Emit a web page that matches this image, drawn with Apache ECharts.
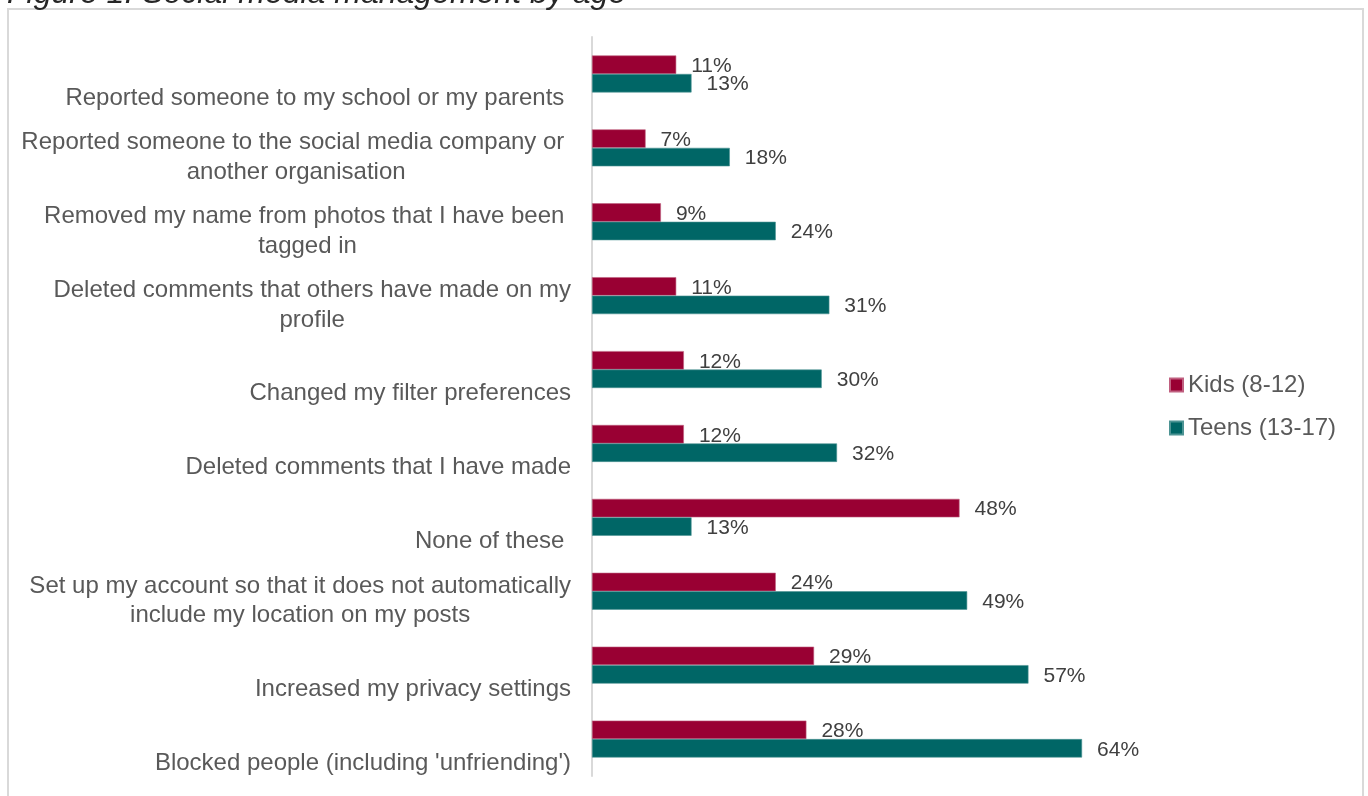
<!DOCTYPE html>
<html>
<head>
<meta charset="utf-8">
<script src="https://cdn.jsdelivr.net/npm/echarts@6/dist/echarts.min.js"></script>
<style>
  html, body { margin: 0; padding: 0; background: #ffffff; }
  #chart { width: 1368px; height: 796px; }
</style>
</head>
<body>
<div id="chart"></div>
<script>
// Social media management actions, share of each age group (%)
const categories = [
  "Reported someone to my school or my parents ",
  "Reported someone to the social media company or \nanother organisation",
  "Removed my name from photos that I have been \ntagged in",
  "Deleted comments that others have made on my\nprofile",
  "Changed my filter preferences",
  "Deleted comments that I have made",
  "None of these ",
  "Set up my account so that it does not automatically\ninclude my location on my posts",
  "Increased my privacy settings",
  "Blocked people (including 'unfriending')"
];
const seriesNames = ["Kids (8-12)", "Teens (13-17)"];
const kids  = [11, 7, 9, 11, 12, 12, 48, 24, 29, 28];
const teens = [13, 18, 24, 31, 30, 32, 13, 49, 57, 64];

const FONT = "'Liberation Sans', Arial, sans-serif";
const KIDS_COLOR = '#990033';
const TEENS_COLOR = '#006666';

const chart = echarts.init(document.getElementById('chart'));

function valueLabel() {
  return {
    show: true,
    position: 'right',
    distance: 15,
    offset: [0, 1.5],
    formatter: p => p.value + '%',
    fontFamily: FONT,
    fontSize: 21,
    color: '#404040'
  };
}

chart.setOption({
  animation: false,
  title: {
    text: 'Figure 1: Social media management by age',
    left: 2,
    top: -27,
    textStyle: {
      fontFamily: FONT,
      fontSize: 32,
      fontStyle: 'italic',
      fontWeight: 'normal',
      color: '#262626'
    }
  },
  graphic: [{
    type: 'rect',
    shape: { x: 8, y: 9, width: 1355, height: 800 },
    style: { fill: 'none', stroke: '#d9d9d9', lineWidth: 2 },
    silent: true
  }],
  legend: {
    orient: 'vertical',
    left: 1164,
    top: 368,
    itemWidth: 13,
    itemHeight: 13,
    itemGap: 19,
    icon: 'rect',
    textStyle: { fontFamily: FONT, fontSize: 24, color: '#595959' },
    data: seriesNames
  },
  grid: { left: 592, right: 240, top: 37, bottom: 20, containLabel: false },
  xAxis: {
    type: 'value',
    min: 0,
    max: 70,
    show: false
  },
  yAxis: {
    type: 'category',
    inverse: true,
    data: categories,
    axisLine: { show: true, lineStyle: { color: '#d9d9d9', width: 2 } },
    axisTick: { show: false },
    splitLine: { show: false },
    axisLabel: {
      margin: 21,
      verticalAlign: 'bottom',
      padding: [0, 0, -39, 0],
      formatter: v => v.split('\n').map(line => '{c|' + line + '}').join('\n'),
      rich: {
        c: {
          align: 'center',
          fontFamily: FONT,
          fontSize: 24,
          lineHeight: 29.5,
          color: '#595959'
        }
      }
    }
  },
  series: [
    {
      name: seriesNames[0],
      type: 'bar',
      data: kids,
      barGap: '0%',
      barCategoryGap: '50%',
      itemStyle: { color: KIDS_COLOR, borderColor: '#c06080', borderWidth: 0.6 },
      label: valueLabel()
    },
    {
      name: seriesNames[1],
      type: 'bar',
      data: teens,
      barGap: '0%',
      barCategoryGap: '50%',
      itemStyle: { color: TEENS_COLOR, borderColor: '#4d9494', borderWidth: 0.6 },
      label: valueLabel()
    }
  ]
});
</script>
</body>
</html>
